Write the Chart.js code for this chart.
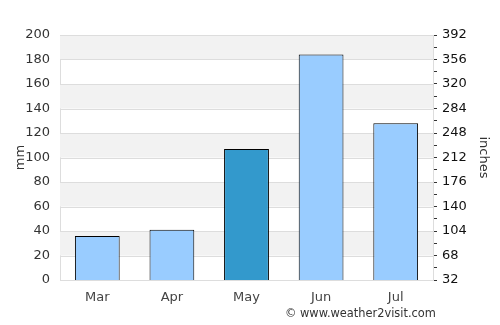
<!DOCTYPE html>
<html>
<head>
<meta charset="utf-8">
<script src="https://cdn.jsdelivr.net/npm/chart.js@4"></script>
<style>
  body { margin: 0; background: #fff; }
  #wrap { position: relative; width: 500px; height: 325px; }
  #credit { position: absolute; left: 285px; top: 306px; font: 11.4px "DejaVu Sans", sans-serif; color: #333; }
</style>
</head>
<body>
<div id="wrap">
  <canvas id="rainChart" width="500" height="325"></canvas>
  <div id="credit">© www.weather2visit.com</div>
</div>
<script>
// rainfall by month (mm)
const months = ['Mar', 'Apr', 'May', 'Jun', 'Jul'];
const rainMm = [36, 41, 107, 184, 128];
const barColors = ['#99CCFF', '#99CCFF', '#3399CC', '#99CCFF', '#99CCFF'];

// right axis scale (labelled "inches")
const rightMin = 32;
const rightMax = 392;
const rightStep = 18;

const fontFamily = '"DejaVu Sans", sans-serif';

// grey stripes behind the bars
const bandPlugin = {
  id: 'bands',
  beforeDatasetsDraw(chart) {
    const { ctx, chartArea, scales } = chart;
    const y = scales.y;
    ctx.save();
    ctx.fillStyle = '#F2F2F2';
    for (let v = 20; v < 200; v += 40) {
      const top = y.getPixelForValue(v + 20);
      const bottom = y.getPixelForValue(v);
      ctx.fillRect(chartArea.left, top, chartArea.right - chartArea.left, bottom - top);
    }
    ctx.strokeStyle = '#DDDDDD';
    ctx.lineWidth = 1;
    for (let v = 20; v <= 200; v += 20) {
      const py = Math.round(y.getPixelForValue(v)) + 0.5;
      ctx.beginPath();
      ctx.moveTo(chartArea.left, py);
      ctx.lineTo(chartArea.right, py);
      ctx.stroke();
    }
    ctx.restore();
  }
};

new Chart(document.getElementById('rainChart'), {
  type: 'bar',
  data: {
    labels: months,
    datasets: [{
      data: rainMm,
      backgroundColor: barColors,
      borderColor: '#000',
      borderWidth: 1,
      barPercentage: 0.6,
      categoryPercentage: 1.0,
      yAxisID: 'y'
    }]
  },
  options: {
    responsive: false,
    animation: false,
    layout: { padding: { top: 35, left: 13, right: 9 } },
    plugins: {
      legend: { display: false },
      tooltip: { enabled: false }
    },
    scales: {
      x: {
        grid: { display: false },
        border: { display: true, color: '#DDDDDD' },
        ticks: { color: '#444', font: { family: fontFamily, size: 13 }, padding: 2 },
        afterFit: (s) => { s.height = 45; }
      },
      y: {
        position: 'left',
        min: 0,
        max: 200,
        grid: { display: false },
        border: { display: true, color: '#DDDDDD' },
        ticks: { stepSize: 20, color: '#333', font: { family: fontFamily, size: 13 }, padding: 2 },
        title: { display: true, text: 'mm', color: '#333', font: { family: fontFamily, size: 13 }, padding: 0 },
        afterFit: (s) => { s.width = 47; }
      },
      y2: {
        position: 'right',
        min: rightMin,
        max: rightMax,
        grid: { drawOnChartArea: false, tickLength: 4, color: '#333' },
        border: { display: true, color: '#DDDDDD' },
        ticks: {
          stepSize: rightStep,
          autoSkip: false,
          color: '#111',
          font: { family: fontFamily, size: 13 },
          padding: 5,
          callback: (v) => ((v - rightMin) % 36 === 0 ? v : '')
        },
        title: { display: true, text: 'inches', color: '#333', font: { family: fontFamily, size: 13 }, padding: 0 },
        afterFit: (s) => { s.width = 58; }
      }
    }
  },
  plugins: [bandPlugin]
});
</script>
</body>
</html>
